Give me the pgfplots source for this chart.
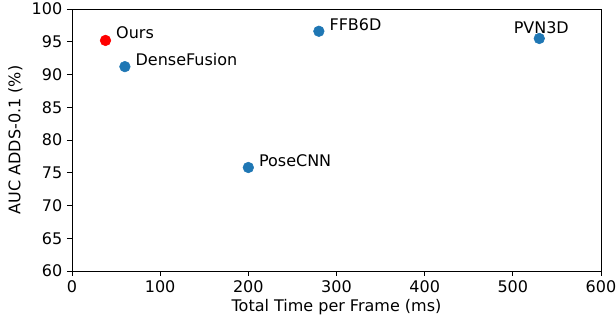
\documentclass[border=0pt]{standalone}
\usepackage{pgfplots}
\pgfplotsset{compat=1.18}
\usepackage{fontspec}
\setmainfont{DejaVu Sans}
\definecolor{mplblue}{HTML}{1F77B4}
\begin{document}
\begin{tikzpicture}
\begin{axis}[
  scale only axis,
  width=396.75pt, height=196.5pt,
  xmin=0, xmax=600, ymin=60, ymax=100,
  xtick={0,100,...,600}, ytick={60,65,...,100},
  xtick pos=bottom, ytick pos=left,
  tick align=outside, major tick length=3.75pt,
  tick style={black, line width=0.7pt},
  axis line style={line width=0.7pt},
  /pgf/number format/assume math mode=true,
  tick label style={font=\fontsize{12}{14}\selectfont},
  label style={font=\fontsize{12}{14}\selectfont},
  xlabel={Total Time per Frame (ms)},
  ylabel={AUC ADDS-0.1 (\%)},
  xlabel style={yshift=2pt},
  ylabel style={yshift=0pt},
  clip=false,
]
\addplot[only marks, mark=*, mark size=4pt, color=mplblue, mark options={draw=mplblue, fill=mplblue}]
  coordinates {(60,91.2) (200,75.8) (280,96.6) (530,95.5)};
\addplot[only marks, mark=*, mark size=4pt, color=red, mark options={draw=red, fill=red}]
  coordinates {(38,95.2)};
\node[anchor=base west, font=\fontsize{12}{14}\selectfont, xshift=4.5pt, yshift=1.5pt] at (axis cs:38,95.2) {Ours};
\node[anchor=base west, font=\fontsize{12}{14}\selectfont, xshift=4.5pt, yshift=0.5pt] at (axis cs:60,91.2) {DenseFusion};
\node[anchor=base west, font=\fontsize{12}{14}\selectfont, xshift=4.5pt, yshift=0.5pt] at (axis cs:200,75.8) {PoseCNN};
\node[anchor=base west, font=\fontsize{12}{14}\selectfont, xshift=4.5pt, yshift=0.5pt] at (axis cs:280,96.6) {FFB6D};
\node[anchor=base, font=\fontsize{12}{14}\selectfont, xshift=1.5pt, yshift=4pt] at (axis cs:530,95.5) {PVN3D};
\end{axis}
\pgfresetboundingbox
\useasboundingbox ([shift={(-54pt,-39pt)}]current axis.south west) rectangle ([shift={(11.25pt,6.75pt)}]current axis.north east);
\end{tikzpicture}
\end{document}
